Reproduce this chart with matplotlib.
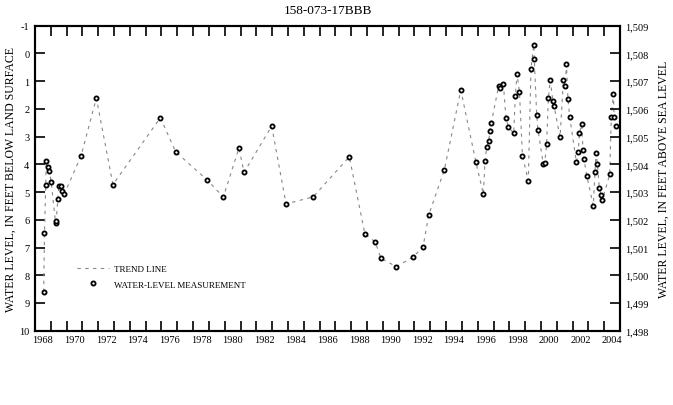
import matplotlib
matplotlib.use("Agg")
import matplotlib.pyplot as plt
from matplotlib.ticker import FuncFormatter

plt.rcParams['font.family'] = ['Liberation Serif', 'DejaVu Serif']
plt.rcParams['axes.unicode_minus'] = False

# Water-level measurements (decimal year, feet below land surface)
years = [1968.55, 1968.60, 1968.68, 1968.70, 1968.80, 1968.90, 1969.02,
         1969.30, 1969.34, 1969.45, 1969.52, 1969.62, 1969.72, 1969.85,
         1970.91, 1971.88, 1972.93, 1975.93, 1976.90, 1978.88, 1979.91,
         1980.90, 1981.22, 1982.97, 1983.88, 1985.60, 1987.88, 1988.87,
         1989.52, 1989.88, 1990.85, 1991.89, 1992.54, 1992.90, 1993.89,
         1994.93, 1995.89, 1996.36, 1996.46, 1996.57, 1996.70, 1996.76,
         1996.86, 1997.33, 1997.43, 1997.62, 1997.79, 1997.94, 1998.28,
         1998.38, 1998.49, 1998.64, 1998.83, 1999.20, 1999.37, 1999.54,
         1999.58, 1999.73, 1999.81, 2000.15, 2000.24, 2000.36, 2000.47,
         2000.59, 2000.75, 2000.83, 2001.21, 2001.42, 2001.54, 2001.61,
         2001.71, 2001.82, 2002.24, 2002.36, 2002.43, 2002.58, 2002.66,
         2002.72, 2002.90, 2003.31, 2003.42, 2003.48, 2003.57, 2003.69,
         2003.80, 2003.88, 2004.35, 2004.45, 2004.58, 2004.63, 2004.73]
depth = [8.60, 6.46, 4.76, 3.87, 4.09, 4.24, 4.62,
         6.10, 6.04, 5.24, 4.77, 4.77, 4.95, 5.07,
         3.70, 1.61, 4.73, 2.32, 3.55, 4.56, 5.18,
         3.41, 4.29, 2.62, 5.43, 5.17, 3.73, 6.52,
         6.80, 7.39, 7.69, 7.35, 6.99, 5.83, 4.20,
         1.32, 3.93, 5.08, 3.89, 3.36, 3.16, 2.80,
         2.50, 1.16, 1.24, 1.09, 2.33, 2.65, 2.88,
         1.52, 0.74, 1.38, 3.69, 4.59, 0.55, -0.31,
         0.20, 2.21, 2.75, 4.00, 3.95, 3.27, 1.61,
         0.96, 1.70, 1.91, 3.02, 0.97, 1.16, 0.39,
         1.65, 2.29, 3.92, 3.57, 2.88, 2.56, 3.48,
         3.81, 4.41, 5.49, 4.27, 3.59, 3.98, 4.84,
         5.11, 5.29, 4.36, 2.28, 1.47, 2.30, 2.63]

land_surface = 1508  # feet above sea level
year_edges = list(range(1968, 2006))
year_labels = list(range(1968, 2005, 2))

fig = plt.figure(figsize=(6.73, 4.06), dpi=100)
ax = fig.add_axes([35/673, 1 - 331.7/406, 585/673, 305/406])

ax.plot(years, depth, linestyle=(0, (3, 4)), color='#888888', lw=0.8,
        label='TREND LINE')
ax.plot(years, depth, linestyle='none', marker='o', ms=3.0, mfc='white',
        mec='black', mew=1.3, label='WATER-LEVEL MEASUREMENT')

ax.set_xlim(1968, 2005)
ax.set_ylim(10, -1)
ax.set_yticks(range(-1, 11))
ax.set_xticks(year_edges)
ax.set_xticklabels([])
ax.set_xticks([y + 0.5 for y in year_labels], minor=True)
ax.set_xticklabels([str(y) for y in year_labels], minor=True, fontsize=7.5)
ax.tick_params(axis='x', which='major', direction='in', length=7, width=1.2,
               top=True, bottom=True)
ax.tick_params(axis='x', which='minor', length=0, pad=3)
ax.tick_params(axis='y', direction='in', length=7, width=1.2, labelsize=7.5,
               pad=4)
for s in ax.spines.values():
    s.set_linewidth(1.5)

ax.set_ylabel('WATER LEVEL, IN FEET BELOW LAND SURFACE', fontsize=8.5,
              labelpad=2)
ax.set_title('158-073-17BBB', fontsize=9.5, pad=9)

ax2 = ax.twinx()
ax2.set_ylim(land_surface - 10, land_surface + 1)
ax2.set_yticks(range(land_surface - 10, land_surface + 2))
ax2.yaxis.set_major_formatter(FuncFormatter(lambda v, p: f"{int(v):,}"))
ax2.tick_params(axis='y', direction='in', length=7, width=1.2, labelsize=7.5,
                pad=4)
ax2.set_ylabel('WATER LEVEL, IN FEET ABOVE SEA LEVEL', fontsize=8.5,
               labelpad=6)
for s in ax2.spines.values():
    s.set_linewidth(1.5)

ax.legend(loc='upper left', bbox_to_anchor=(0.072, 0.215), frameon=False,
          fontsize=6.5, handlelength=3.5, handletextpad=0.6,
          labelspacing=0.75, borderpad=0, borderaxespad=0)

fig.savefig('out.png', dpi=100)
